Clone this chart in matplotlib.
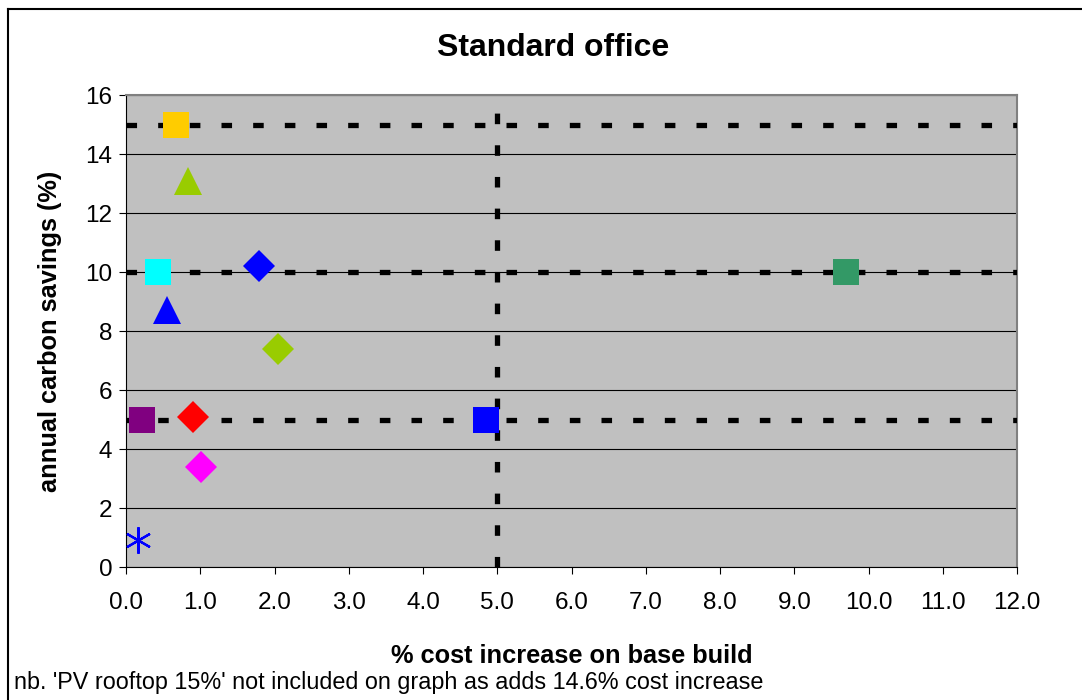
import matplotlib
matplotlib.use("Agg")
import matplotlib.pyplot as plt
from matplotlib.lines import Line2D

plt.rcParams['font.family'] = ['Liberation Sans', 'DejaVu Sans']

# measures: (cost increase %, carbon saving %, marker, colour)
cost = [0.67, 0.84, 0.43, 0.55, 1.79, 2.05, 0.22, 0.90, 1.01, 0.16, 4.85, 9.70]
saving = [15.0, 13.1, 10.0, 8.7, 10.2, 7.4, 5.0, 5.1, 3.4, 0.9, 5.0, 10.0]
markers = ['s', '^', 's', '^', 'D', 'D', 's', 'D', 'D', 'star', 's', 's']
colours = ['#FFCC00', '#99CC00', '#00FFFF', '#0000FF', '#0000FF', '#99CC00',
           '#800080', '#FF0000', '#FF00FF', '#0000FF', '#0000FF', '#339966']

target_savings = [5, 10, 15]
target_cost = [5]

W, H = 1082, 700
fig = plt.figure(figsize=(W / 100, H / 100), dpi=100)
# chart border (left and top edges only visible)
fig.lines.append(Line2D([7.5 / W, 7.5 / W], [0, 1 - 8.5 / H], transform=fig.transFigure,
                        color='black', linewidth=1.5))
fig.lines.append(Line2D([7.5 / W, 1], [1 - 8.5 / H, 1 - 8.5 / H], transform=fig.transFigure,
                        color='black', linewidth=1.5))

ax = fig.add_axes([0.1165, 0.19, 0.8235, 0.674])
ax.set_facecolor('#C0C0C0')

ax.set_xlim(0, 12)
ax.set_ylim(0, 16)
ax.set_xticks(range(0, 13))
ax.set_xticklabels(['%.1f' % v for v in range(0, 13)])
ax.set_yticks(range(0, 17, 2))
ax.grid(axis='y', color='black', linewidth=0.8)
ax.set_axisbelow(True)

for y in target_savings:
    ax.plot([0, 12], [y, y], color='black', linewidth=3.8, dashes=(2, 4),
            dash_capstyle='butt', zorder=3)
for x in target_cost:
    ax.plot([x, x], [0, 16], color='black', linewidth=3.8, dashes=(2, 4),
            dash_capstyle='butt', zorder=3)

for x, y, m, c in zip(cost, saving, markers, colours):
    if m == 'star':
        ax.plot(x, y, marker=(6, 2, 0), markersize=19, color=c,
                markeredgewidth=1.6, linestyle='none', zorder=4)
    elif m == 'D':
        ax.plot(x, y, marker='D', markersize=16.5, color=c, markeredgewidth=0,
                linestyle='none', zorder=4)
    elif m == '^':
        ax.plot(x, y, marker='^', markersize=20, color=c, markeredgewidth=0,
                linestyle='none', zorder=4)
    else:
        ax.plot(x, y, marker=m, markersize=19, color=c, markeredgewidth=0,
                linestyle='none', zorder=4)

for s in ['top', 'right']:
    ax.spines[s].set_color('#808080')
    ax.spines[s].set_linewidth(1.5)
for s in ['left', 'bottom']:
    ax.spines[s].set_color('black')
ax.tick_params(labelsize=17.5, direction='out', length=5, color='black')
ax.tick_params(axis='x', pad=13)
ax.tick_params(axis='y', pad=5)

fig.text(0.511, 0.931, 'Standard office', fontsize=23, fontweight='bold',
         ha='center', va='center')
ax.set_xlabel('% cost increase on base build', fontsize=18.3, fontweight='bold')
ax.set_ylabel('annual carbon savings (%)', fontsize=18.3, fontweight='bold')
ax.xaxis.set_label_coords(0.5, -0.163)
ax.yaxis.set_label_coords(-0.072, 0.5)

fig.text(14 / W, 1 - 683 / H,
         "nb. 'PV rooftop 15%' not included on graph as adds 14.6% cost increase",
         fontsize=16.8, va='center')

fig.savefig('out.png', dpi=100)
